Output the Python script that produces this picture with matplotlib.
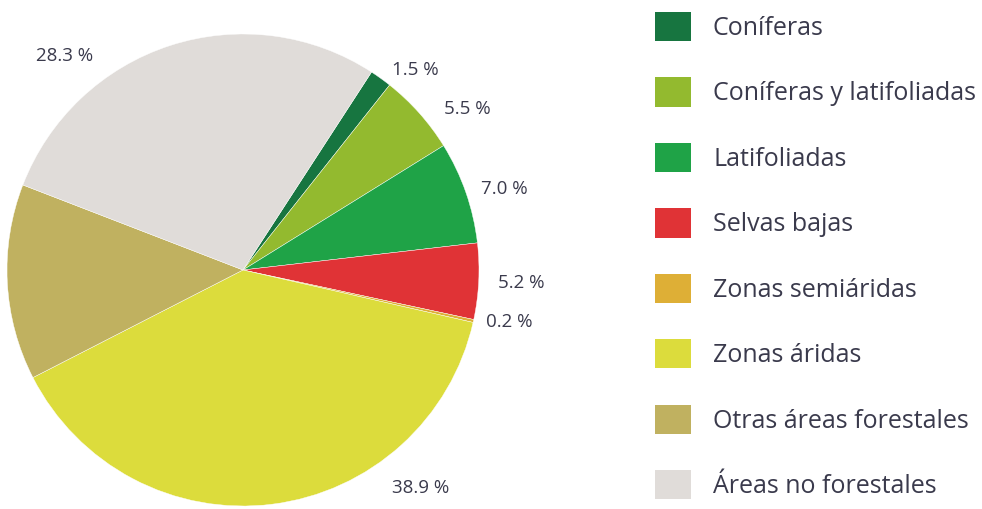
import matplotlib
matplotlib.use("Agg")
import matplotlib.pyplot as plt
from matplotlib.patches import Patch
import numpy as np

categories = ["Coníferas", "Coníferas y latifoliadas", "Latifoliadas", "Selvas bajas",
              "Zonas semiáridas", "Zonas áridas", "Otras áreas forestales", "Áreas no forestales"]
values = [1.5, 5.5, 7.0, 5.2, 0.2, 38.9, 13.4, 28.3]
value_labels = ["1.5 %", "5.5 %", "7.0 %", "5.2 %", "0.2 %", "38.9 %", "", "28.3 %"]
colors = ["#177540", "#93ba2f", "#1fa347", "#e03336", "#deaf36", "#dcdc3c", "#c0b160", "#e0dcd9"]

# label placement (angle offset from slice middle in degrees, radius factor)
label_angle_offset = [-5, -6, -2, 0, 1.5, 32, 0, 22]
label_radius = [1.12, 1.17, 1.16, 1.18, 1.15, 1.19, 1.1, 1.18]

plt.rcParams['font.family'] = ['Open Sans', 'DejaVu Sans']
txt_color = "#3a3a4c"

fig = plt.figure(figsize=(9.82, 5.09), dpi=100)
W, H = 982, 509
cx, cy, R = 243, 270, 236
ax = fig.add_axes([(cx - R) / W, (H - cy - R) / H, 2 * R / W, 2 * R / H])

start = 57
wedges, _ = ax.pie(values, colors=colors, startangle=start, counterclock=False,
                   radius=1.0, wedgeprops=dict(edgecolor="white", linewidth=0.3))
ax.set_xlim(-1, 1)
ax.set_ylim(-1, 1)
ax.set_aspect("equal")
ax.axis("off")

for w, lab, off, rf in zip(wedges, value_labels, label_angle_offset, label_radius):
    if not lab:
        continue
    mid = (w.theta1 + w.theta2) / 2 + off
    th = np.deg2rad(mid)
    ax.text(rf * np.cos(th), rf * np.sin(th), lab, ha="center", va="center",
            fontsize=13.5, color=txt_color, clip_on=False)

handles = [Patch(facecolor=c, edgecolor="none") for c in colors]
leg = fig.legend(handles, categories, loc="upper left",
                 bbox_to_anchor=(650 / W, 1 - 7 / H), frameon=False,
                 fontsize=18, handlelength=1.42, handleheight=1.42,
                 handletextpad=0.9, labelspacing=1.45, borderaxespad=0,
                 borderpad=0.2)
for t in leg.get_texts():
    t.set_color(txt_color)

fig.savefig("out.png", dpi=100)
